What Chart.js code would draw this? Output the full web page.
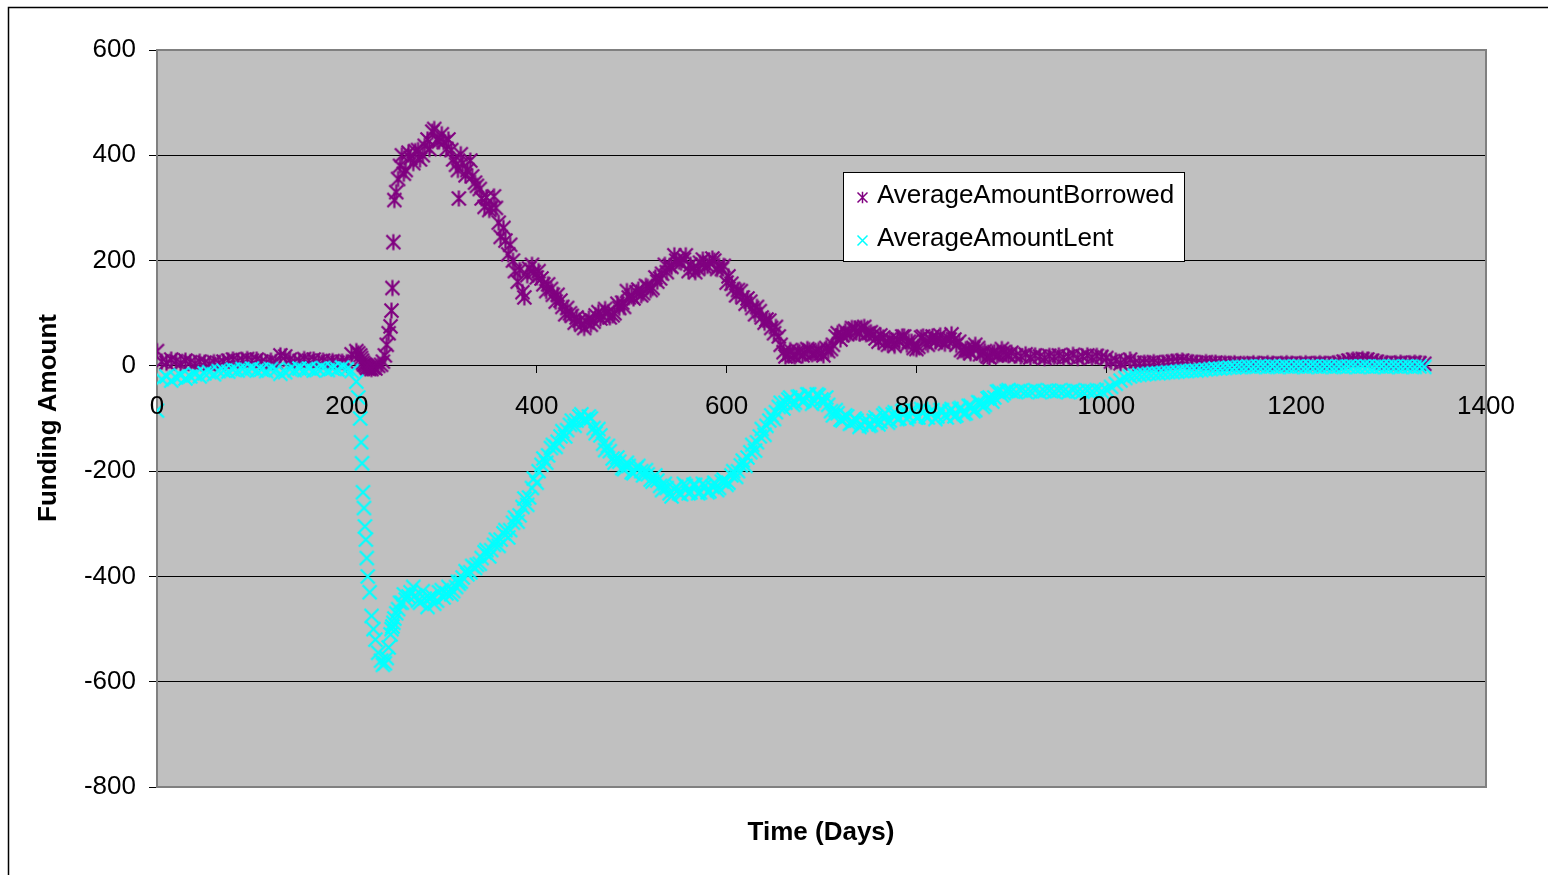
<!DOCTYPE html>
<html>
<head>
<meta charset="utf-8">
<script src="https://cdn.jsdelivr.net/npm/chart.js@4.4.1/dist/chart.umd.min.js"></script>
<style>
html, body { margin: 0; padding: 0; background: #fff; }
#wrap { width: 1548px; height: 875px; }
</style>
</head>
<body>
<div id="wrap"><canvas id="mycanvas" width="1548" height="875"></canvas></div>
<script>
// time in days (shared by both series)
var days = [
	0, 5, 10, 15, 20, 25, 30, 35, 40, 45,
	50, 55, 60, 65, 70, 75, 80, 85, 90, 95,
	100, 105, 110, 115, 120, 125, 130, 135, 140, 145,
	150, 155, 160, 165, 170, 175, 180, 185, 190, 195,
	200, 205, 210, 212, 214, 215, 216, 217, 218, 219,
	220, 221, 222, 224, 226, 228, 230, 233, 236, 238,
	240, 242, 244, 246, 247, 248, 249, 250, 252, 254,
	256, 258, 260, 265, 270, 275, 280, 285, 290, 295,
	300, 305, 310, 315, 318, 320, 325, 330, 335, 340,
	345, 350, 355, 360, 365, 370, 375, 380, 385, 390,
	395, 400, 405, 410, 415, 420, 425, 430, 435, 440,
	445, 450, 455, 460, 465, 470, 475, 480, 485, 490,
	495, 500, 505, 510, 515, 520, 525, 530, 535, 540,
	545, 550, 555, 560, 565, 570, 575, 580, 585, 590,
	595, 600, 605, 610, 615, 620, 625, 630, 635, 640,
	645, 650, 655, 660, 665, 670, 675, 680, 685, 690,
	695, 700, 705, 710, 715, 720, 725, 730, 735, 740,
	745, 750, 755, 760, 765, 770, 775, 780, 785, 790,
	795, 800, 805, 810, 815, 820, 825, 830, 835, 840,
	845, 850, 855, 860, 865, 870, 875, 880, 885, 890,
	895, 900, 905, 910, 915, 920, 925, 930, 935, 940,
	945, 950, 955, 960, 965, 970, 975, 980, 985, 990,
	995, 1000, 1005, 1010, 1015, 1020, 1025, 1030, 1035, 1040,
	1045, 1050, 1055, 1060, 1065, 1070, 1075, 1080, 1085, 1090,
	1095, 1100, 1105, 1110, 1115, 1120, 1125, 1130, 1135, 1140,
	1145, 1150, 1155, 1160, 1165, 1170, 1175, 1180, 1185, 1190,
	1195, 1200, 1205, 1210, 1215, 1220, 1225, 1230, 1235, 1240,
	1245, 1250, 1255, 1260, 1265, 1270, 1275, 1280, 1285, 1290,
	1295, 1300, 1305, 1310, 1315, 1320, 1325, 1330, 1335
];

var amountBorrowed = [
	28, 8, 6, 12, 9, 5, 10, 7, 4, 8,
	6, 3, 7, 5, 8, 10, 12, 9, 11, 13,
	10, 12, 8, 6, 10, 7, 20, 18, 12, 8,
	9, 13, 10, 12, 8, 10, 7, 9, 6, 8,
	7, 22, 28, 24, 20, 15, 10, 6, 3, 2,
	0, -3, -5, -4, -6, -3, -5, 0, 2, 8,
	20, 40, 62, 75, 105, 148, 235, 315, 330, 355,
	380, 400, 365, 405, 385, 410, 400, 430, 445, 430,
	440, 412, 410, 382, 318, 402, 362, 390, 348, 336,
	302, 296, 322, 272, 262, 212, 200, 160, 140, 172,
	192, 168, 166, 142, 146, 122, 124, 98, 100, 82,
	86, 72, 90, 84, 102, 94, 102, 96, 118, 120,
	142, 132, 140, 134, 152, 144, 168, 166, 192, 190,
	210, 198, 202, 180, 186, 184, 202, 190, 204, 184,
	184, 158, 156, 134, 142, 118, 122, 98, 104, 82,
	86, 62, 56, 26, 22, 20, 28, 20, 32, 22,
	26, 24, 34, 32, 56, 50, 66, 62, 71, 62,
	74, 62, 60, 46, 54, 40, 48, 50, 56, 40,
	46, 32, 54, 44, 50, 46, 58, 42, 50, 50,
	46, 26, 30, 34, 34, 24, 18, 24, 20, 32,
	22, 25, 20, 18, 22, 16, 20, 18, 15, 19,
	17, 20, 16, 18, 21, 15, 18, 20, 16, 19,
	17, 15, 8, 10, 5, 9, 12, 6, 4, 6,
	5, 7, 4, 6, 7, 8, 9, 10, 8, 7,
	6, 5, 7, 5, 6, 4, 5, 4, 5, 3,
	4, 3, 5, 4, 3, 5, 4, 3, 4, 5,
	4, 3, 4, 5, 3, 4, 5, 4, 3, 5,
	6, 8, 10, 12, 11, 13, 12, 10, 8, 6,
	5, 4, 5, 6, 4, 5, 6, 5, 4
];

var amountLent = [
	-85, -25, -20, -28, -22, -18, -24, -20, -16, -20,
	-14, -12, -16, -10, -9, -11, -7, -9, -6, -8,
	-5, -9, -7, -10, -6, -8, -15, -12, -6, -8,
	-5, -8, -5, -9, -6, -4, -8, -5, -7, -3,
	-6, -10, -30, -60, -100, -145, -185, -240, -270, -305,
	-330, -365, -400, -430, -475, -500, -520, -545, -560, -568,
	-565, -555, -535, -510, -500, -495, -488, -480, -470, -462,
	-450, -450, -434, -438, -420, -446, -428, -458, -438, -446,
	-426, -432, -434, -420, -414, -410, -390, -392, -384, -376,
	-354, -362, -340, -342, -318, -326, -298, -296, -268, -264,
	-232, -222, -188, -184, -156, -154, -134, -134, -112, -114,
	-96, -102, -96, -118, -120, -148, -152, -176, -174, -194,
	-184, -202, -194, -200, -198, -216, -208, -228, -224, -242,
	-234, -242, -224, -242, -226, -242, -224, -240, -230, -236,
	-220, -226, -208, -211, -189, -190, -164, -161, -134, -131,
	-104, -101, -78, -81, -64, -74, -59, -68, -54, -72,
	-54, -64, -60, -86, -84, -102, -94, -110, -100, -116,
	-106, -114, -104, -111, -94, -108, -92, -101, -86, -101,
	-84, -98, -82, -96, -86, -101, -84, -94, -86, -96,
	-82, -91, -76, -86, -69, -78, -62, -68, -49, -56,
	-48, -48, -50, -47, -49, -48, -46, -50, -48, -47,
	-49, -47, -48, -50, -46, -48, -49, -47, -48, -46,
	-48, -45, -40, -34, -28, -23, -20, -18, -17, -16,
	-15, -14, -14, -13, -12, -12, -11, -10, -10, -9,
	-9, -8, -7, -6, -5, -5, -4, -3, -3, -2,
	-2, -1, -2, -1, -1, -2, -1, -2, -1, -1,
	-2, -1, -1, -2, -1, -1, -2, -1, -1, -2,
	-1, -2, -1, -1, -2, -1, -1, -2, -1, -1,
	-2, -1, -1, -2, -1, -1, -2, -1, -2
];

// in-between days where the scatter is densest
var extraDays = [
	262, 267, 272, 277, 282, 287, 292, 297, 302, 307,
	312, 317, 322, 327, 332, 337, 342, 347, 352, 357,
	362, 367, 372, 377, 382, 387, 392, 397, 402, 407,
	412, 417, 422, 427, 432, 437, 442, 447, 452, 457,
	462, 467, 472, 477, 482, 487, 492, 497, 502, 507,
	512, 517, 522, 527, 532, 537, 542, 547, 552, 557,
	562, 567, 572, 577, 582, 587, 592, 597, 602, 607,
	612, 617, 622, 627, 632, 637, 642, 647, 652, 657,
	662, 667, 672, 677, 682, 687, 692, 697, 702, 707,
	712, 717, 722, 727, 732, 737, 742, 747, 752, 757,
	762, 767, 772, 777, 782, 787, 792, 797, 802, 807,
	812, 817, 822, 827, 832, 837, 842, 847, 852, 857,
	862, 867, 872, 877, 882, 887, 892, 897
];

var extraBorrowed = [
	372, 395, 408, 392, 418, 412, 450, 426, 425, 430,
	392, 372, 385, 372, 360, 342, 318, 320, 300, 300,
	245, 238, 230, 180, 182, 130, 185, 178, 180, 155,
	155, 135, 135, 112, 110, 95, 92, 78, 84, 78,
	96, 90, 108, 92, 100, 110, 112, 130, 128, 145,
	138, 150, 148, 160, 175, 178, 188, 200, 196, 210,
	192, 178, 196, 188, 196, 200, 190, 190, 170, 146,
	144, 130, 128, 110, 112, 92, 88, 72, 74, 40,
	18, 30, 18, 26, 24, 30, 24, 30, 20, 28,
	40, 62, 58, 60, 72, 66, 72, 60, 64, 52,
	58, 44, 50, 38, 46, 56, 46, 34, 36, 56,
	40, 56, 52, 46, 50, 60, 40, 30, 32, 24,
	40, 22, 28, 16, 26, 22, 26, 20
];

var extraLent = [
	-444, -430, -436, -450, -442, -440, -452, -430, -440, -420,
	-428, -410, -402, -396, -380, -378, -365, -350, -350, -330,
	-330, -312, -312, -288, -284, -252, -250, -214, -200, -176,
	-170, -150, -144, -124, -122, -104, -104, -92, -104, -100,
	-128, -132, -160, -162, -184, -182, -196, -190, -204, -190,
	-208, -206, -220, -218, -236, -232, -248, -230, -244, -228,
	-240, -226, -240, -228, -238, -222, -232, -216, -222, -200,
	-200, -180, -174, -150, -145, -120, -114, -94, -88, -70,
	-70, -60, -70, -58, -66, -54, -66, -56, -70, -74,
	-94, -90, -104, -96, -108, -104, -112, -102, -112, -98,
	-106, -90, -104, -88, -100, -84, -96, -86, -98, -88,
	-98, -84, -96, -84, -98, -82, -94, -80, -90, -76,
	-84, -70, -74, -60, -60, -48, -52, -46
];

var seriesNames = ["AverageAmountBorrowed", "AverageAmountLent"];
var seriesColors = ["#800080", "#00FFFF"];
var xTitle = "Time (Days)";
var yTitle = "Funding Amount";

var FONT = "'Liberation Sans', Arial, sans-serif";

// excel style markers
function starMarker(color, r, lw) {
	var s = Math.ceil(r * 2 + lw * 2 + 2);
	var c = document.createElement("canvas");
	c.width = s; c.height = s;
	var g = c.getContext("2d");
	var m = s / 2;
	g.strokeStyle = color;
	g.lineWidth = lw;
	g.beginPath();
	g.moveTo(m - r, m - r); g.lineTo(m + r, m + r);
	g.moveTo(m + r, m - r); g.lineTo(m - r, m + r);
	g.moveTo(m, m - r * 1.15); g.lineTo(m, m + r * 1.15);
	g.stroke();
	return c;
}
function crossMarker(color, r, lw) {
	var s = Math.ceil(r * 2 + lw * 2 + 2);
	var c = document.createElement("canvas");
	c.width = s; c.height = s;
	var g = c.getContext("2d");
	var m = s / 2;
	g.strokeStyle = color;
	g.lineWidth = lw;
	g.beginPath();
	g.moveTo(m - r, m - r); g.lineTo(m + r, m + r);
	g.moveTo(m + r, m - r); g.lineTo(m - r, m + r);
	g.stroke();
	return c;
}

var borrowedPts = [];
var lentPts = [];
for (var i in days) {
	borrowedPts.push({x: days[i], y: amountBorrowed[i]});
	lentPts.push({x: days[i], y: amountLent[i]});
}
for (var j in extraDays) {
	borrowedPts.push({x: extraDays[j], y: extraBorrowed[j]});
	lentPts.push({x: extraDays[j], y: extraLent[j]});
}

var frame = {
	id: "frame",
	beforeDraw: function(chart) {
		var ctx = chart.ctx, a = chart.chartArea;
		ctx.save();
		ctx.fillStyle = "#fff";
		ctx.fillRect(0, 0, chart.width, chart.height);
		ctx.strokeStyle = "#000";
		ctx.lineWidth = 1.5;
		ctx.beginPath();
		ctx.moveTo(8.5, chart.height);
		ctx.lineTo(8.5, 7.5);
		ctx.lineTo(chart.width, 7.5);
		ctx.stroke();
		ctx.fillStyle = "#C0C0C0";
		ctx.fillRect(a.left, a.top, a.right - a.left, a.bottom - a.top);
		ctx.restore();
	},
	afterDraw: function(chart) {
		var ctx = chart.ctx, a = chart.chartArea;
		ctx.save();
		// plot border
		ctx.strokeStyle = "#808080";
		ctx.lineWidth = 2;
		ctx.beginPath();
		ctx.moveTo(a.left, a.top);
		ctx.lineTo(a.right, a.top);
		ctx.lineTo(a.right, a.bottom);
		ctx.lineTo(a.left, a.bottom);
		ctx.stroke();

		// axis titles
		ctx.fillStyle = "#000";
		ctx.font = "bold 26px " + FONT;
		ctx.textAlign = "center";
		ctx.textBaseline = "middle";
		ctx.fillText(xTitle, 821, 833);
		ctx.translate(49, 418);
		ctx.rotate(-Math.PI / 2);
		ctx.fillText(yTitle, 0, 0);
		ctx.setTransform(1, 0, 0, 1, 0, 0);

		// legend
		ctx.fillStyle = "#fff";
		ctx.fillRect(843, 172, 341, 89);
		ctx.strokeStyle = "#000";
		ctx.lineWidth = 1;
		ctx.strokeRect(843.5, 172.5, 341, 89);
		ctx.drawImage(starMarker(seriesColors[0], 5, 1.5), 862 - 7, 197 - 7);
		ctx.drawImage(crossMarker(seriesColors[1], 5, 1.5), 862 - 7, 240 - 7);
		ctx.fillStyle = "#000";
		ctx.font = "26px " + FONT;
		ctx.textAlign = "left";
		ctx.fillText(seriesNames[0], 877, 196);
		ctx.fillText(seriesNames[1], 877, 239);
		ctx.restore();
	}
};

var ctx = document.getElementById("mycanvas");

var chartdata = {
	datasets: [
		{
			label: seriesNames[1],
			data: lentPts,
			pointStyle: crossMarker(seriesColors[1], 7, 2.2),
			pointRadius: 8,
			borderColor: seriesColors[1],
			backgroundColor: seriesColors[1],
			showLine: false
		},
		{
			label: seriesNames[0],
			data: borrowedPts,
			pointStyle: starMarker(seriesColors[0], 7, 2.2),
			pointRadius: 8,
			borderColor: seriesColors[0],
			backgroundColor: seriesColors[0],
			showLine: false
		}
	]
};

var ScatterGraph = new Chart(ctx, {
	type: "scatter",
	data: chartdata,
	plugins: [frame],
	options: {
		responsive: false,
		animation: false,
		events: [],
		layout: { padding: { left: 0, top: 50, right: 62, bottom: 88 } },
		plugins: {
			legend: { display: false },
			tooltip: { enabled: false }
		},
		scales: {
			x: {
				type: "linear",
				position: { y: 0 },
				min: 0,
				max: 1400,
				border: { display: false },
				grid: { drawOnChartArea: false, drawTicks: true, tickLength: 7, color: "#000", lineWidth: 1 },
				ticks: {
					z: 1,
					stepSize: 200,
					padding: 18,
					color: "#000",
					font: { family: FONT, size: 26 },
					maxRotation: 0,
					callback: function(v) { return String(v); }
				}
			},
			y: {
				type: "linear",
				position: "left",
				min: -800,
				max: 600,
				afterFit: function(scale) { scale.width = 157; },
				border: { display: true, color: "#808080", width: 2 },
				grid: { color: "#000", lineWidth: 1, tickLength: 8 },
				ticks: {
					stepSize: 200,
					padding: 13,
					color: "#000",
					font: { family: FONT, size: 26 },
					callback: function(v) { return String(v); }
				}
			}
		}
	}
});
</script>
</body>
</html>
